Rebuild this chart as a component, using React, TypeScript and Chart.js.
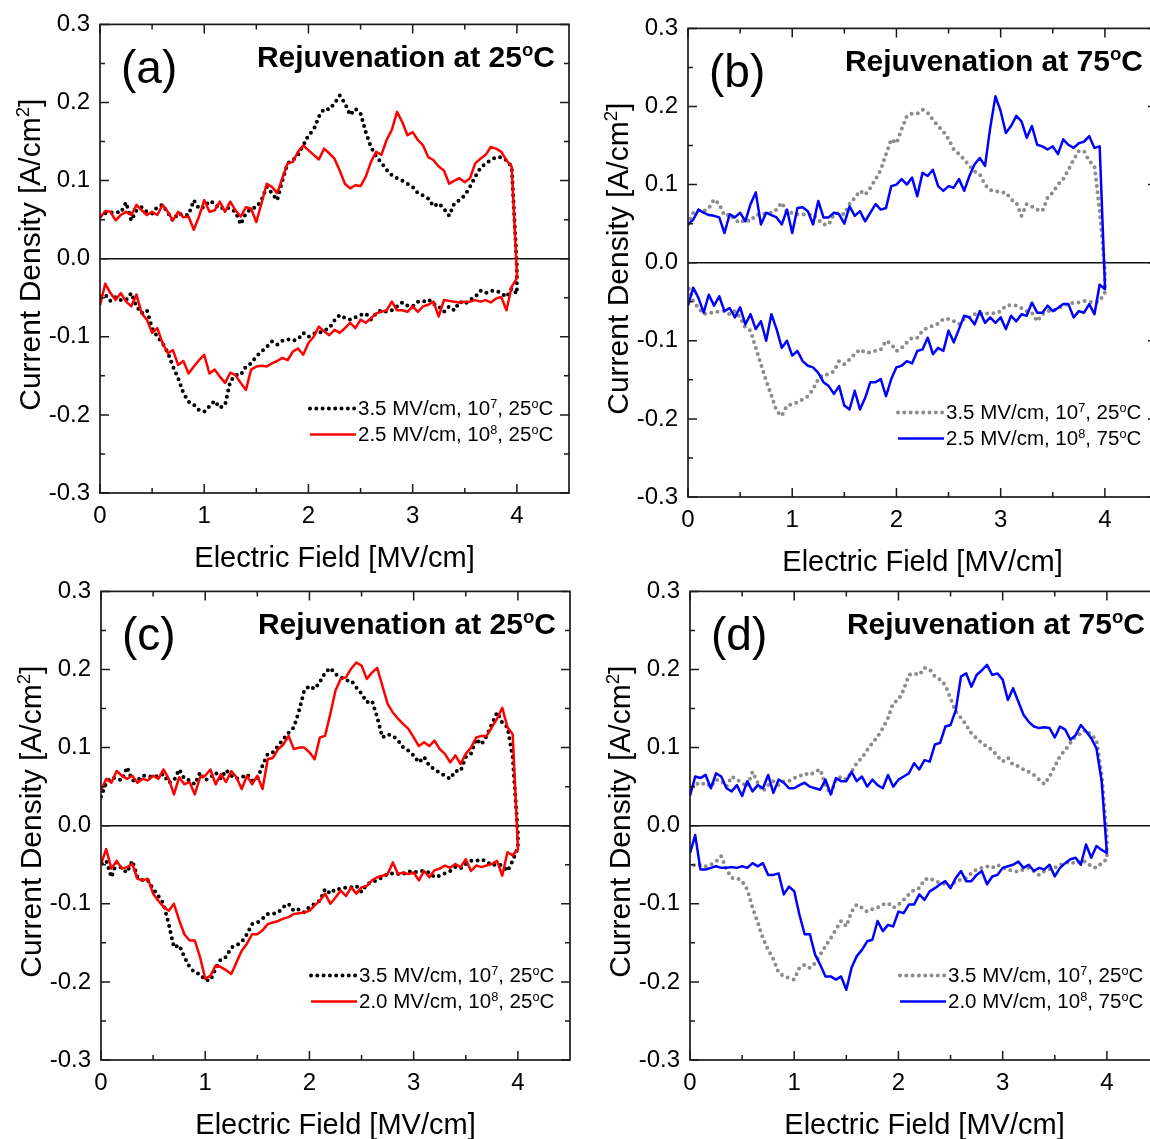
import React, { useEffect, useRef } from "react";
import { Chart, registerables } from "chart.js";

Chart.register(...registerables);

const FONT = '"Liberation Sans", Arial, Helvetica, sans-serif';

// Electric field sampling (MV/cm), shared by every branch
const FIELD = [0, 0.05, 0.1, 0.15, 0.2, 0.25, 0.3, 0.35, 0.4, 0.45, 0.5, 0.55, 0.6, 0.65, 0.7, 0.75, 0.8, 0.85, 0.9, 0.95, 1, 1.05, 1.1, 1.15, 1.2, 1.25, 1.3, 1.35, 1.4, 1.45, 1.5, 1.55, 1.6, 1.65, 1.7, 1.75, 1.8, 1.85, 1.9, 1.95, 2, 2.05, 2.1, 2.15, 2.2, 2.25, 2.3, 2.35, 2.4, 2.45, 2.5, 2.55, 2.6, 2.65, 2.7, 2.75, 2.8, 2.85, 2.9, 2.95, 3, 3.05, 3.1, 3.15, 3.2, 3.25, 3.3, 3.35, 3.4, 3.45, 3.5, 3.55, 3.6, 3.65, 3.7, 3.75, 3.8, 3.85, 3.9, 3.95, 4];

const X_TICKS = [0, 1, 2, 3, 4];
const X_MINOR = [0.5, 1.5, 2.5, 3.5];
const Y_TICKS = [-0.3, -0.2, -0.1, 0, 0.1, 0.2, 0.3];
const Y_MINOR = [-0.25, -0.15, -0.05, 0.05, 0.15, 0.25];

// ---- Panel (a) ----
const A_REF_UP = [0.054, 0.058, 0.059, 0.060, 0.059, 0.072, 0.049, 0.062, 0.066, 0.060, 0.058, 0.066, 0.069, 0.059, 0.049, 0.058, 0.056, 0.056, 0.075, 0.064, 0.066, 0.074, 0.071, 0.064, 0.066, 0.064, 0.060, 0.044, 0.058, 0.064, 0.066, 0.075, 0.092, 0.084, 0.075, 0.100, 0.122, 0.126, 0.133, 0.145, 0.158, 0.165, 0.182, 0.192, 0.191, 0.199, 0.209, 0.199, 0.184, 0.192, 0.186, 0.162, 0.143, 0.131, 0.123, 0.114, 0.107, 0.103, 0.100, 0.096, 0.092, 0.084, 0.081, 0.077, 0.067, 0.071, 0.064, 0.055, 0.071, 0.075, 0.081, 0.092, 0.105, 0.116, 0.122, 0.126, 0.130, 0.130, 0.126, 0.118, -0.010];
const A_REF_DN = [-0.049, -0.046, -0.054, -0.049, -0.053, -0.053, -0.044, -0.061, -0.070, -0.066, -0.089, -0.100, -0.108, -0.120, -0.138, -0.153, -0.172, -0.183, -0.187, -0.194, -0.196, -0.189, -0.182, -0.191, -0.187, -0.157, -0.149, -0.149, -0.138, -0.134, -0.125, -0.119, -0.113, -0.106, -0.110, -0.105, -0.103, -0.105, -0.103, -0.095, -0.100, -0.096, -0.095, -0.092, -0.089, -0.079, -0.072, -0.076, -0.078, -0.075, -0.072, -0.070, -0.078, -0.070, -0.066, -0.068, -0.066, -0.061, -0.056, -0.060, -0.061, -0.055, -0.055, -0.052, -0.058, -0.061, -0.068, -0.061, -0.066, -0.055, -0.058, -0.053, -0.049, -0.041, -0.044, -0.041, -0.041, -0.044, -0.049, -0.038, -0.045];
const A_NEW_UP = [0.052, 0.061, 0.060, 0.049, 0.056, 0.060, 0.056, 0.069, 0.062, 0.056, 0.060, 0.056, 0.069, 0.060, 0.049, 0.060, 0.053, 0.054, 0.037, 0.054, 0.075, 0.060, 0.062, 0.073, 0.060, 0.073, 0.062, 0.054, 0.066, 0.064, 0.047, 0.071, 0.096, 0.092, 0.084, 0.103, 0.122, 0.124, 0.137, 0.145, 0.139, 0.133, 0.127, 0.141, 0.135, 0.128, 0.113, 0.096, 0.090, 0.094, 0.093, 0.105, 0.124, 0.137, 0.133, 0.152, 0.165, 0.188, 0.175, 0.158, 0.162, 0.152, 0.145, 0.130, 0.126, 0.118, 0.113, 0.096, 0.100, 0.103, 0.098, 0.103, 0.122, 0.128, 0.133, 0.143, 0.141, 0.137, 0.126, 0.118, -0.019];
const A_NEW_DN = [-0.060, -0.032, -0.044, -0.053, -0.044, -0.055, -0.061, -0.046, -0.070, -0.078, -0.095, -0.089, -0.108, -0.121, -0.117, -0.136, -0.131, -0.147, -0.138, -0.130, -0.123, -0.147, -0.142, -0.151, -0.159, -0.146, -0.149, -0.159, -0.168, -0.142, -0.138, -0.137, -0.138, -0.134, -0.131, -0.127, -0.130, -0.119, -0.115, -0.123, -0.108, -0.100, -0.087, -0.093, -0.098, -0.091, -0.095, -0.089, -0.082, -0.089, -0.078, -0.082, -0.076, -0.070, -0.068, -0.066, -0.055, -0.066, -0.066, -0.068, -0.061, -0.068, -0.061, -0.059, -0.055, -0.074, -0.053, -0.054, -0.055, -0.056, -0.055, -0.055, -0.053, -0.055, -0.053, -0.056, -0.051, -0.049, -0.066, -0.036, -0.025];

// ---- Panel (b) ----
const B_REF_UP = [0.049, 0.064, 0.067, 0.066, 0.070, 0.081, 0.075, 0.060, 0.062, 0.055, 0.051, 0.055, 0.053, 0.061, 0.062, 0.063, 0.064, 0.068, 0.077, 0.064, 0.064, 0.062, 0.062, 0.061, 0.062, 0.055, 0.049, 0.049, 0.062, 0.064, 0.062, 0.075, 0.083, 0.092, 0.087, 0.096, 0.107, 0.119, 0.139, 0.158, 0.153, 0.171, 0.188, 0.191, 0.191, 0.196, 0.192, 0.183, 0.175, 0.168, 0.158, 0.145, 0.139, 0.132, 0.124, 0.117, 0.113, 0.100, 0.093, 0.092, 0.090, 0.090, 0.081, 0.077, 0.060, 0.075, 0.072, 0.068, 0.066, 0.083, 0.090, 0.100, 0.107, 0.119, 0.132, 0.143, 0.143, 0.130, 0.124, 0.066, -0.010];
const B_REF_DN = [-0.030, -0.049, -0.058, -0.066, -0.064, -0.064, -0.062, -0.062, -0.066, -0.062, -0.070, -0.083, -0.087, -0.109, -0.130, -0.151, -0.170, -0.190, -0.196, -0.183, -0.181, -0.179, -0.175, -0.171, -0.162, -0.149, -0.143, -0.143, -0.139, -0.126, -0.130, -0.124, -0.117, -0.111, -0.115, -0.115, -0.113, -0.111, -0.100, -0.104, -0.113, -0.109, -0.102, -0.096, -0.096, -0.087, -0.083, -0.081, -0.078, -0.072, -0.072, -0.075, -0.079, -0.072, -0.070, -0.066, -0.065, -0.066, -0.064, -0.065, -0.062, -0.055, -0.054, -0.055, -0.058, -0.062, -0.064, -0.075, -0.066, -0.062, -0.062, -0.058, -0.055, -0.053, -0.051, -0.051, -0.049, -0.050, -0.051, -0.049, -0.038];
const B_NEW_UP = [0.049, 0.055, 0.068, 0.064, 0.061, 0.060, 0.058, 0.038, 0.062, 0.058, 0.064, 0.053, 0.075, 0.090, 0.049, 0.064, 0.061, 0.058, 0.049, 0.068, 0.038, 0.070, 0.071, 0.066, 0.049, 0.079, 0.058, 0.058, 0.064, 0.062, 0.050, 0.072, 0.060, 0.066, 0.053, 0.064, 0.075, 0.068, 0.070, 0.098, 0.100, 0.107, 0.100, 0.109, 0.085, 0.115, 0.111, 0.119, 0.098, 0.092, 0.098, 0.096, 0.107, 0.092, 0.111, 0.126, 0.134, 0.124, 0.173, 0.213, 0.194, 0.166, 0.175, 0.188, 0.181, 0.160, 0.175, 0.151, 0.149, 0.145, 0.149, 0.139, 0.158, 0.151, 0.147, 0.153, 0.155, 0.162, 0.147, 0.149, -0.028];
const B_NEW_DN = [-0.055, -0.032, -0.045, -0.064, -0.041, -0.055, -0.043, -0.062, -0.058, -0.070, -0.057, -0.079, -0.066, -0.085, -0.075, -0.100, -0.066, -0.085, -0.109, -0.100, -0.119, -0.113, -0.126, -0.132, -0.134, -0.141, -0.153, -0.158, -0.168, -0.158, -0.183, -0.188, -0.164, -0.188, -0.173, -0.153, -0.153, -0.149, -0.171, -0.149, -0.134, -0.132, -0.126, -0.129, -0.113, -0.111, -0.096, -0.117, -0.109, -0.113, -0.087, -0.102, -0.085, -0.068, -0.070, -0.079, -0.062, -0.077, -0.070, -0.077, -0.070, -0.085, -0.068, -0.075, -0.066, -0.068, -0.051, -0.064, -0.064, -0.055, -0.062, -0.058, -0.053, -0.053, -0.070, -0.062, -0.064, -0.053, -0.066, -0.028, -0.034];

// ---- Panel (c) ----
const C_REF_UP = [0.037, 0.055, 0.062, 0.060, 0.058, 0.075, 0.058, 0.058, 0.064, 0.064, 0.062, 0.064, 0.066, 0.055, 0.058, 0.072, 0.060, 0.058, 0.053, 0.068, 0.058, 0.062, 0.068, 0.060, 0.071, 0.064, 0.060, 0.062, 0.066, 0.058, 0.060, 0.077, 0.092, 0.094, 0.102, 0.111, 0.119, 0.126, 0.147, 0.173, 0.179, 0.175, 0.184, 0.196, 0.202, 0.194, 0.190, 0.186, 0.186, 0.177, 0.169, 0.158, 0.160, 0.139, 0.113, 0.117, 0.115, 0.109, 0.100, 0.096, 0.090, 0.081, 0.088, 0.077, 0.072, 0.068, 0.064, 0.060, 0.070, 0.070, 0.088, 0.092, 0.111, 0.104, 0.115, 0.130, 0.145, 0.132, 0.126, 0.088, -0.010];
const C_REF_DN = [-0.049, -0.045, -0.066, -0.047, -0.055, -0.060, -0.045, -0.066, -0.070, -0.070, -0.081, -0.090, -0.100, -0.126, -0.156, -0.153, -0.168, -0.181, -0.188, -0.190, -0.198, -0.198, -0.183, -0.171, -0.168, -0.156, -0.153, -0.149, -0.139, -0.126, -0.124, -0.119, -0.113, -0.113, -0.111, -0.104, -0.100, -0.109, -0.107, -0.111, -0.104, -0.100, -0.096, -0.081, -0.087, -0.081, -0.081, -0.079, -0.079, -0.077, -0.085, -0.075, -0.072, -0.070, -0.066, -0.062, -0.061, -0.062, -0.062, -0.058, -0.060, -0.058, -0.058, -0.060, -0.066, -0.064, -0.061, -0.058, -0.053, -0.055, -0.049, -0.045, -0.045, -0.043, -0.046, -0.051, -0.049, -0.051, -0.058, -0.045, -0.028];
const C_NEW_UP = [0.045, 0.060, 0.055, 0.070, 0.064, 0.060, 0.064, 0.055, 0.060, 0.058, 0.064, 0.060, 0.072, 0.060, 0.040, 0.062, 0.053, 0.056, 0.040, 0.062, 0.064, 0.072, 0.053, 0.066, 0.056, 0.070, 0.062, 0.047, 0.064, 0.053, 0.064, 0.047, 0.085, 0.087, 0.098, 0.104, 0.115, 0.098, 0.100, 0.100, 0.094, 0.085, 0.113, 0.115, 0.143, 0.173, 0.188, 0.190, 0.201, 0.209, 0.205, 0.188, 0.196, 0.202, 0.179, 0.156, 0.145, 0.137, 0.130, 0.124, 0.113, 0.102, 0.107, 0.102, 0.109, 0.098, 0.092, 0.081, 0.090, 0.079, 0.092, 0.100, 0.113, 0.115, 0.115, 0.126, 0.137, 0.151, 0.126, 0.117, -0.028];
const C_NEW_DN = [-0.049, -0.030, -0.055, -0.045, -0.055, -0.053, -0.049, -0.068, -0.070, -0.068, -0.087, -0.096, -0.104, -0.109, -0.100, -0.121, -0.139, -0.147, -0.147, -0.168, -0.196, -0.192, -0.179, -0.181, -0.185, -0.190, -0.175, -0.160, -0.151, -0.139, -0.139, -0.134, -0.126, -0.124, -0.122, -0.119, -0.117, -0.113, -0.112, -0.111, -0.109, -0.102, -0.096, -0.087, -0.100, -0.092, -0.083, -0.090, -0.079, -0.087, -0.079, -0.077, -0.070, -0.066, -0.064, -0.062, -0.047, -0.062, -0.060, -0.062, -0.060, -0.070, -0.058, -0.066, -0.057, -0.055, -0.051, -0.054, -0.049, -0.053, -0.043, -0.058, -0.051, -0.053, -0.051, -0.049, -0.045, -0.064, -0.034, -0.038, -0.030];

// ---- Panel (d) ----
const D_REF_UP = [0.044, 0.055, 0.052, 0.055, 0.050, 0.059, 0.057, 0.050, 0.063, 0.059, 0.055, 0.050, 0.069, 0.055, 0.044, 0.052, 0.057, 0.052, 0.057, 0.057, 0.061, 0.063, 0.067, 0.065, 0.069, 0.072, 0.052, 0.040, 0.059, 0.063, 0.059, 0.069, 0.080, 0.087, 0.097, 0.106, 0.114, 0.125, 0.138, 0.157, 0.161, 0.174, 0.193, 0.195, 0.193, 0.202, 0.200, 0.191, 0.187, 0.180, 0.163, 0.146, 0.138, 0.129, 0.118, 0.112, 0.106, 0.101, 0.097, 0.089, 0.082, 0.087, 0.078, 0.076, 0.072, 0.069, 0.065, 0.059, 0.053, 0.063, 0.076, 0.089, 0.097, 0.106, 0.114, 0.118, 0.123, 0.116, 0.110, 0.065, -0.016];
const D_REF_DN = [-0.046, -0.052, -0.050, -0.052, -0.050, -0.046, -0.039, -0.056, -0.067, -0.067, -0.071, -0.082, -0.105, -0.124, -0.144, -0.159, -0.171, -0.188, -0.193, -0.195, -0.197, -0.182, -0.178, -0.182, -0.176, -0.165, -0.154, -0.144, -0.133, -0.122, -0.129, -0.110, -0.101, -0.105, -0.110, -0.107, -0.105, -0.101, -0.099, -0.105, -0.101, -0.095, -0.088, -0.082, -0.080, -0.069, -0.067, -0.071, -0.073, -0.075, -0.078, -0.071, -0.069, -0.067, -0.061, -0.056, -0.054, -0.052, -0.054, -0.050, -0.054, -0.056, -0.058, -0.059, -0.056, -0.054, -0.058, -0.063, -0.058, -0.056, -0.054, -0.050, -0.048, -0.046, -0.049, -0.045, -0.046, -0.052, -0.054, -0.048, -0.043];
const D_NEW_UP = [0.038, 0.063, 0.061, 0.065, 0.048, 0.067, 0.063, 0.048, 0.044, 0.052, 0.038, 0.057, 0.044, 0.052, 0.048, 0.065, 0.042, 0.059, 0.055, 0.048, 0.048, 0.052, 0.055, 0.050, 0.048, 0.046, 0.059, 0.040, 0.061, 0.057, 0.057, 0.069, 0.057, 0.063, 0.050, 0.059, 0.052, 0.048, 0.065, 0.050, 0.059, 0.063, 0.067, 0.080, 0.072, 0.084, 0.082, 0.104, 0.106, 0.127, 0.129, 0.148, 0.191, 0.195, 0.178, 0.193, 0.199, 0.206, 0.193, 0.195, 0.187, 0.161, 0.176, 0.159, 0.142, 0.133, 0.127, 0.125, 0.126, 0.125, 0.113, 0.127, 0.123, 0.110, 0.116, 0.129, 0.121, 0.112, 0.099, 0.057, -0.035];
const D_NEW_DN = [-0.035, -0.012, -0.056, -0.056, -0.054, -0.052, -0.054, -0.054, -0.053, -0.054, -0.052, -0.054, -0.048, -0.052, -0.048, -0.063, -0.063, -0.061, -0.088, -0.078, -0.084, -0.114, -0.139, -0.139, -0.165, -0.178, -0.193, -0.193, -0.197, -0.193, -0.210, -0.182, -0.167, -0.159, -0.148, -0.146, -0.122, -0.135, -0.127, -0.129, -0.110, -0.112, -0.101, -0.101, -0.088, -0.095, -0.084, -0.080, -0.075, -0.071, -0.080, -0.067, -0.058, -0.071, -0.071, -0.063, -0.058, -0.075, -0.065, -0.063, -0.054, -0.052, -0.050, -0.046, -0.054, -0.050, -0.058, -0.054, -0.056, -0.050, -0.065, -0.054, -0.048, -0.043, -0.041, -0.050, -0.024, -0.041, -0.026, -0.031, -0.035];

// Rich texts: alternating normal / superscript pieces
const LEG_REF = ["3.5 MV/cm, 10", "7", ", 25", "o", "C"];
const LEG_A = ["2.5 MV/cm, 10", "8", ", 25", "o", "C"];
const LEG_B = ["2.5 MV/cm, 10", "8", ", 75", "o", "C"];
const LEG_C = ["2.0 MV/cm, 10", "8", ", 25", "o", "C"];
const LEG_D = ["2.0 MV/cm, 10", "8", ", 75", "o", "C"];
const TITLE_25 = ["Rejuvenation at 25", "o", "C"];
const TITLE_75 = ["Rejuvenation at 75", "o", "C"];
const Y_TITLE = ["Current Density [A/cm", "2", "]"];
const X_TITLE = "Electric Field [MV/cm]";

const BLACK = "#000000";
const GRAY = "#8c8c8c";
const RED = "#ff0000";
const BLUE = "#0000ff";

type PanelDef = {
  label: string;
  title: string[];
  left: number;
  top: number;
  refUp: number[];
  refDn: number[];
  newUp: number[];
  newDn: number[];
  refColor: string;
  newColor: string;
  refLegend: string[];
  newLegend: string[];
};

const PANELS: PanelDef[] = [
  { label: "(a)", title: TITLE_25, left: 100, top: 24, refUp: A_REF_UP, refDn: A_REF_DN, newUp: A_NEW_UP, newDn: A_NEW_DN, refColor: BLACK, newColor: RED, refLegend: LEG_REF, newLegend: LEG_A },
  { label: "(b)", title: TITLE_75, left: 688, top: 28, refUp: B_REF_UP, refDn: B_REF_DN, newUp: B_NEW_UP, newDn: B_NEW_DN, refColor: GRAY, newColor: BLUE, refLegend: LEG_REF, newLegend: LEG_B },
  { label: "(c)", title: TITLE_25, left: 101, top: 591, refUp: C_REF_UP, refDn: C_REF_DN, newUp: C_NEW_UP, newDn: C_NEW_DN, refColor: BLACK, newColor: RED, refLegend: LEG_REF, newLegend: LEG_C },
  { label: "(d)", title: TITLE_75, left: 690, top: 591, refUp: D_REF_UP, refDn: D_REF_DN, newUp: D_NEW_UP, newDn: D_NEW_DN, refColor: GRAY, newColor: BLUE, refLegend: LEG_REF, newLegend: LEG_D },
];

const PLOT = 469; // plot box side
const Y_AXIS_W = 100;
const X_AXIS_H = 90;
const PAD_TOP = 24;
const PAD_RIGHT = 16;
const CW = Y_AXIS_W + PLOT + PAD_RIGHT;
const CH = PAD_TOP + PLOT + X_AXIS_H;
const DOT_DASH = [0, 6.3];

function loop(up: number[], dn: number[]) {
  const pts = up.map((y, i) => ({ x: FIELD[i], y }));
  for (let i = dn.length - 1; i >= 0; i--) pts.push({ x: FIELD[i], y: dn[i] });
  return pts;
}

function drawRich(ctx: CanvasRenderingContext2D, parts: string[], x: number, y: number, size: number, weight: string, align: "left" | "right" | "center") {
  const supSize = size * 0.62;
  const fonts = parts.map((_, i) => `${weight} ${i % 2 ? supSize : size}px ${FONT}`);
  const widths = parts.map((p, i) => {
    ctx.font = fonts[i];
    return ctx.measureText(p).width;
  });
  const total = widths.reduce((a, b) => a + b, 0);
  let cx = align === "right" ? x - total : align === "center" ? x - total / 2 : x;
  ctx.textAlign = "left";
  ctx.textBaseline = "alphabetic";
  parts.forEach((p, i) => {
    ctx.font = fonts[i];
    ctx.fillText(p, cx, i % 2 ? y - size * 0.38 : y);
    cx += widths[i];
  });
}

function makeDecor(p: PanelDef) {
  return {
    id: "decor",
    beforeDatasetsDraw(chart: any) {
      const { ctx, chartArea } = chart;
      const y0 = chart.scales.y.getPixelForValue(0);
      ctx.save();
      ctx.strokeStyle = "#111";
      ctx.lineWidth = 1.4;
      ctx.beginPath();
      ctx.moveTo(chartArea.left, y0);
      ctx.lineTo(chartArea.right, y0);
      ctx.stroke();
      ctx.restore();
    },
    afterDatasetsDraw(chart: any) {
      const { ctx, chartArea } = chart;
      const { left, right, top, bottom } = chartArea;
      const xs = chart.scales.x;
      const ys = chart.scales.y;
      ctx.save();
      ctx.strokeStyle = "#1a1a1a";
      ctx.lineWidth = 1.7;
      ctx.strokeRect(left, top, right - left, bottom - top);
      ctx.lineWidth = 1.5;
      ctx.beginPath();
      const xt = (v: number, len: number) => {
        const px = xs.getPixelForValue(v);
        ctx.moveTo(px, bottom);
        ctx.lineTo(px, bottom - len);
        ctx.moveTo(px, top);
        ctx.lineTo(px, top + len);
      };
      const yt = (v: number, len: number) => {
        const py = ys.getPixelForValue(v);
        ctx.moveTo(left, py);
        ctx.lineTo(left + len, py);
        ctx.moveTo(right, py);
        ctx.lineTo(right - len, py);
      };
      X_TICKS.forEach((v) => xt(v, 9));
      X_MINOR.forEach((v) => xt(v, 5));
      Y_TICKS.forEach((v) => yt(v, 9));
      Y_MINOR.forEach((v) => yt(v, 5));
      ctx.stroke();

      // y-axis title with superscript
      ctx.fillStyle = "#000";
      ctx.save();
      ctx.translate(left - 70, (top + bottom) / 2 - 4);
      ctx.rotate(-Math.PI / 2);
      drawRich(ctx, Y_TITLE, 0, 10, 30, "normal", "center");
      ctx.restore();

      // panel label and title
      ctx.font = `46px ${FONT}`;
      ctx.textAlign = "left";
      ctx.textBaseline = "alphabetic";
      ctx.fillText(p.label, left + 21, top + 59);
      drawRich(ctx, p.title, right - 14, top + 43, 30, "bold", "right");

      // legend
      const lx0 = left + 210;
      const lx1 = left + 256;
      const rows = [
        { parts: p.refLegend, color: p.refColor, dotted: true, cy: top + 384 },
        { parts: p.newLegend, color: p.newColor, dotted: false, cy: top + 410 },
      ];
      rows.forEach((r) => {
        ctx.save();
        ctx.strokeStyle = r.color;
        if (r.dotted) {
          ctx.lineWidth = 4;
          ctx.lineCap = "round";
          ctx.setLineDash(DOT_DASH);
        } else {
          ctx.lineWidth = 2.5;
        }
        ctx.beginPath();
        ctx.moveTo(lx0, r.cy);
        ctx.lineTo(lx1, r.cy);
        ctx.stroke();
        ctx.restore();
        ctx.fillStyle = "#000";
        drawRich(ctx, r.parts, left + 258, r.cy + 7, 20.5, "normal", "left");
      });
      ctx.restore();
    },
  };
}

function makeConfig(p: PanelDef): any {
  return {
    type: "line",
    data: {
      datasets: [
        {
          data: loop(p.newUp, p.newDn),
          borderColor: p.newColor,
          borderWidth: 2.5,
          pointRadius: 0,
          tension: 0,
          fill: false,
          borderJoinStyle: "round",
        },
        {
          data: loop(p.refUp, p.refDn),
          borderColor: p.refColor,
          borderWidth: 4,
          borderDash: DOT_DASH,
          borderCapStyle: "round",
          borderJoinStyle: "round",
          pointRadius: 0,
          tension: 0,
          fill: false,
        },
      ],
    },
    options: {
      animation: false,
      responsive: false,
      devicePixelRatio: 1,
      events: [],
      layout: { padding: { top: PAD_TOP, right: PAD_RIGHT, left: 0, bottom: 0 } },
      plugins: { legend: { display: false }, tooltip: { enabled: false } },
      scales: {
        x: {
          type: "linear",
          min: 0,
          max: 4.5,
          afterBuildTicks: (s: any) => {
            s.ticks = X_TICKS.map((v) => ({ value: v }));
          },
          afterFit: (s: any) => {
            s.height = X_AXIS_H;
          },
          grid: { display: false, drawTicks: false },
          border: { display: false },
          ticks: {
            autoSkip: false,
            maxRotation: 0,
            padding: 9,
            color: "#000",
            font: { family: FONT, size: 24 },
            callback: (v: any) => String(v),
          },
          title: {
            display: true,
            text: X_TITLE,
            color: "#000",
            font: { family: FONT, size: 29 },
            padding: { top: 0, bottom: 7 },
          },
        },
        y: {
          type: "linear",
          min: -0.3,
          max: 0.3,
          afterBuildTicks: (s: any) => {
            s.ticks = Y_TICKS.map((v) => ({ value: v }));
          },
          afterFit: (s: any) => {
            s.width = Y_AXIS_W;
          },
          grid: { display: false, drawTicks: false },
          border: { display: false },
          ticks: {
            autoSkip: false,
            padding: 10,
            color: "#000",
            font: { family: FONT, size: 24 },
            callback: (v: any) => Number(v).toFixed(1),
          },
          title: { display: false },
        },
      },
    },
    plugins: [makeDecor(p)],
  };
}

function Panel({ p }: { p: PanelDef }) {
  const ref = useRef<HTMLCanvasElement>(null);
  useEffect(() => {
    if (!ref.current) return;
    const chart = new Chart(ref.current, makeConfig(p));
    return () => chart.destroy();
  }, [p]);
  return (
    <canvas
      ref={ref}
      width={CW}
      height={CH}
      style={{ position: "absolute", left: p.left - Y_AXIS_W, top: p.top - PAD_TOP, width: CW, height: CH }}
    />
  );
}

export default function App() {
  return (
    <div
      style={{
        position: "absolute",
        left: 0,
        top: 0,
        width: 1150,
        height: 1139,
        overflow: "hidden",
        background: "#fff",
      }}
    >
      {PANELS.map((p) => (
        <Panel key={p.label} p={p} />
      ))}
    </div>
  );
}
